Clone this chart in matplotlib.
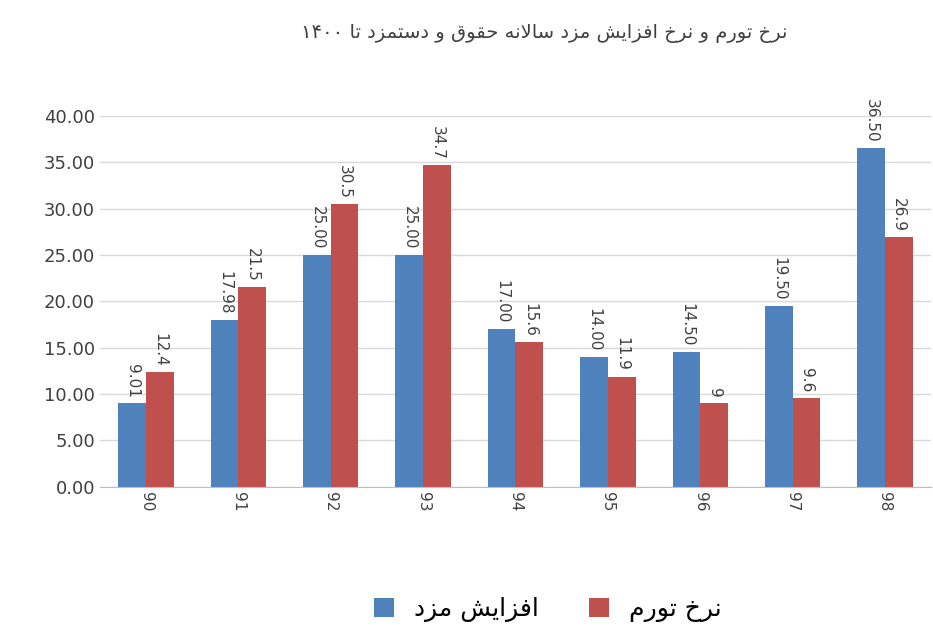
import matplotlib.pyplot as plt
import numpy as np

years = ["90", "91", "92", "93", "94", "95", "96", "97", "98"]
wage_increase = [9.01, 17.98, 25.00, 25.00, 17.00, 14.00, 14.50, 19.50, 36.50]
inflation = [12.4, 21.5, 30.5, 34.7, 15.6, 11.9, 9, 9.6, 26.9]
wage_labels = ["9.01", "17.98", "25.00", "25.00", "17.00", "14.00", "14.50", "19.50", "36.50"]
infl_labels = ["12.4", "21.5", "30.5", "34.7", "15.6", "11.9", "9", "9.6", "26.9"]

title_fa = "نرخ تورم و نرخ افزایش مزد سالانه حقوق و دستمزد تا ۱۴۰۰"
legend_wage = "افزایش مزد"
legend_infl = "نرخ تورم"

# minimal arabic shaping: (isolated, final, initial, medial); 2-tuple = right-joining only
FORMS = {
    "ا": (0xFE8D, 0xFE8E), "د": (0xFEA9, 0xFEAA), "ر": (0xFEAD, 0xFEAE),
    "ز": (0xFEAF, 0xFEB0), "و": (0xFEED, 0xFEEE), "\uFEFB": (0xFEFB, 0xFEFC),
    "ت": (0xFE95, 0xFE96, 0xFE97, 0xFE98), "ح": (0xFEA1, 0xFEA2, 0xFEA3, 0xFEA4),
    "خ": (0xFEA5, 0xFEA6, 0xFEA7, 0xFEA8), "س": (0xFEB1, 0xFEB2, 0xFEB3, 0xFEB4),
    "ش": (0xFEB5, 0xFEB6, 0xFEB7, 0xFEB8), "ف": (0xFED1, 0xFED2, 0xFED3, 0xFED4),
    "ق": (0xFED5, 0xFED6, 0xFED7, 0xFED8), "ل": (0xFEDD, 0xFEDE, 0xFEDF, 0xFEE0),
    "م": (0xFEE1, 0xFEE2, 0xFEE3, 0xFEE4), "ن": (0xFEE5, 0xFEE6, 0xFEE7, 0xFEE8),
    "ه": (0xFEE9, 0xFEEA, 0xFEEB, 0xFEEC), "ی": (0xFBFC, 0xFBFD, 0xFBFE, 0xFBFF),
}


def shape_word(w):
    if not any(c in FORMS for c in w):
        return w
    w = w.replace("لا", "\uFEFB")
    out = []
    for i, c in enumerate(w):
        f = FORMS.get(c)
        if f is None:
            out.append(c)
            continue
        prev = w[i - 1] if i > 0 else None
        nxt = w[i + 1] if i + 1 < len(w) else None
        jp = prev in FORMS and len(FORMS[prev]) == 4
        jn = len(f) == 4 and nxt in FORMS
        if jp and jn:
            k = 3
        elif jp:
            k = 1
        elif jn:
            k = 2
        else:
            k = 0
        out.append(chr(f[k]))
    return "".join(reversed(out))


def rtl(s):
    return " ".join(shape_word(w) for w in reversed(s.split(" ")))


plt.rcParams['font.family'] = ['DejaVu Sans']
fig = plt.figure(figsize=(9.33, 6.44), dpi=100)
ax = fig.add_axes([0.107, 0.244, 0.891, 0.576])

x = np.arange(len(years))
w = 0.3
b1 = ax.bar(x - w / 2, wage_increase, w, color="#4F81BD", label=rtl(legend_wage))
b2 = ax.bar(x + w / 2, inflation, w, color="#C0504D", label=rtl(legend_infl))

for bars, labs in ((b1, wage_labels), (b2, infl_labels)):
    for r, t in zip(bars, labs):
        ax.text(r.get_x() + r.get_width() / 2, r.get_height() + 0.6, t,
                rotation=-90, ha="center", va="bottom", fontsize=11, color="#404040")

ax.set_ylim(0, 40)
ax.set_xlim(-0.5, len(years) - 0.5)
ax.set_yticks(np.arange(0, 41, 5))
ax.set_yticklabels([f"{v:.2f}" for v in np.arange(0, 41, 5)], fontsize=13, color="#404040")
ax.set_xticks(x)
ax.set_xticklabels(years, rotation=-90, fontsize=11, color="#404040")
ax.tick_params(length=0)
ax.yaxis.grid(True, color="#D9D9D9", lw=1)
ax.set_axisbelow(True)
for s in ("top", "right", "left"):
    ax.spines[s].set_visible(False)
ax.spines["bottom"].set_color("#BFBFBF")

fig.text(0.583, 0.948, rtl(title_fa), ha="center", va="center", fontsize=14, color="#404040")
fig.legend(handles=[b1, b2], loc="center", bbox_to_anchor=(0.587, 0.053), ncol=2,
           frameon=False, fontsize=18, handlelength=0.8, handleheight=0.8, columnspacing=2)

fig.savefig("out.png", dpi=100)
